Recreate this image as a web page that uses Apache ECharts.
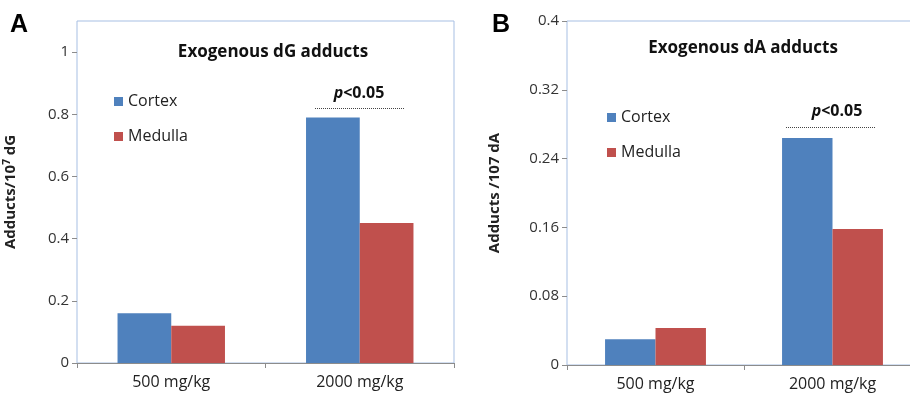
<!DOCTYPE html>
<html>
<head>
<meta charset="utf-8">
<script src="https://cdn.jsdelivr.net/npm/echarts@6/dist/echarts.min.js"></script>
<style>
  html, body { margin: 0; padding: 0; background: #fff; overflow: hidden; }
  /* a bit wider than the window: panel B's box runs off the right edge */
  #chart { width: 930px; height: 397px; }
</style>
</head>
<body>
<div id="chart"></div>
<script>
// data
var doses = ['500 mg/kg', '2000 mg/kg'];
var dgCortex = [0.16, 0.79];
var dgMedulla = [0.12, 0.45];
var daCortex = [0.03, 0.264];
var daMedulla = [0.043, 0.158];

var font = '"Open Sans", Lato, sans-serif';
var blue = '#4F81BD';
var red = '#C0504D';
var boxBlue = '#A7BFE3';
var gray = '#8C8C8C';

var myChart = echarts.init(document.getElementById('chart'));

function yAxisFor(gridIndex, max, interval, name, gap) {
  return {
    gridIndex: gridIndex,
    type: 'value',
    min: 0,
    max: max,
    interval: interval,
    splitLine: { show: false },
    axisLine: { show: false },
    axisTick: { show: true, length: 5, lineStyle: { color: gray } },
    axisLabel: { showMaxLabel: gridIndex == 1, color: '#333', fontSize: 15, fontFamily: font, margin: 8 },
    name: name,
    nameLocation: 'middle',
    nameGap: gap,
    nameRotate: 90,
    nameTextStyle: {
      rich: {
        a: { fontSize: 15, fontWeight: 'bold', color: '#222', fontFamily: font },
        s: { fontSize: 10, fontWeight: 'bold', color: '#222', fontFamily: font, verticalAlign: 'top', padding: [0, 0, 8, 0] }
      }
    }
  };
}

function xAxisFor(gridIndex) {
  return {
    gridIndex: gridIndex,
    type: 'category',
    data: doses,
    axisLine: { lineStyle: { color: gray } },
    axisTick: { show: true, length: 5, lineStyle: { color: gray } },
    axisLabel: { color: '#222', fontSize: 16, fontFamily: font, margin: 11 }
  };
}

function barSeries(name, data, color, idx) {
  return {
    name: name,
    type: 'bar',
    xAxisIndex: idx,
    yAxisIndex: idx,
    data: data,
    barGap: '0%',
    barCategoryGap: '43%',
    itemStyle: { color: color },
    emphasis: { disabled: true }
  };
}

var legendBase = {
  orient: 'vertical',
  itemWidth: 9,
  itemHeight: 9,
  itemGap: 18,
  icon: 'rect',
  selectedMode: false,
  textStyle: { fontSize: 16, color: '#222', fontFamily: font, lineHeight: 17 },
  data: ['Cortex', 'Medulla']
};

var pRich = {
  i: { fontSize: 16, fontWeight: 'bold', fontStyle: 'italic', fill: '#111', fontFamily: font },
  b: { fontSize: 16, fontWeight: 'bold', fill: '#111', fontFamily: font }
};

var option = {
  animation: false,
  grid: [
    { left: 77, top: 21, width: 377, height: 342, show: true, borderColor: boxBlue, borderWidth: 1 },
    { left: 567, top: 21, width: 354, height: 344, show: true, borderColor: boxBlue, borderWidth: 1 }
  ],
  xAxis: [xAxisFor(0), xAxisFor(1)],
  yAxis: [
    yAxisFor(0, 1.1, 0.2, '{a|Adducts/10}{s|7}{a| dG}', 57),
    yAxisFor(1, 0.4, 0.08, '{a|Adducts /107 dA}', 65)
  ],
  legend: [
    Object.assign({ left: 109, top: 88 }, legendBase),
    Object.assign({ left: 602, top: 104 }, legendBase)
  ],
  series: [
    barSeries('Cortex', dgCortex, blue, 0),
    barSeries('Medulla', dgMedulla, red, 0),
    barSeries('Cortex', daCortex, blue, 1),
    barSeries('Medulla', daMedulla, red, 1)
  ],
  graphic: [
    { type: 'text', left: 10, top: 13, style: { text: 'A', fontSize: 25, fontWeight: 'bold', fill: '#000', fontFamily: 'Liberation Sans, Arial, sans-serif' } },
    { type: 'text', left: 492, top: 13, style: { text: 'B', fontSize: 25, fontWeight: 'bold', fill: '#000', fontFamily: 'Liberation Sans, Arial, sans-serif' } },
    { type: 'text', x: 273, y: 52, style: { text: 'Exogenous dG adducts', fontSize: 17, fontWeight: 'bold', fill: '#111', fontFamily: font, align: 'center', verticalAlign: 'middle' } },
    { type: 'text', x: 743, y: 48, style: { text: 'Exogenous dA adducts', fontSize: 17, fontWeight: 'bold', fill: '#111', fontFamily: font, align: 'center', verticalAlign: 'middle' } },
    { type: 'text', x: 359, y: 93, style: { text: '{i|p}{b|<0.05}', rich: pRich, align: 'center', verticalAlign: 'middle' } },
    { type: 'text', x: 837, y: 111, style: { text: '{i|p}{b|<0.05}', rich: pRich, align: 'center', verticalAlign: 'middle' } },
    { type: 'line', shape: { x1: 315, y1: 108.5, x2: 404, y2: 108.5 }, style: { stroke: '#444', lineWidth: 1, lineDash: [1, 1] } },
    { type: 'line', shape: { x1: 786, y1: 127.5, x2: 876, y2: 127.5 }, style: { stroke: '#444', lineWidth: 1, lineDash: [1, 1] } }
  ]
};

myChart.setOption(option);
window.addEventListener('resize', function () {
  myChart.resize();
});
</script>
</body>
</html>
